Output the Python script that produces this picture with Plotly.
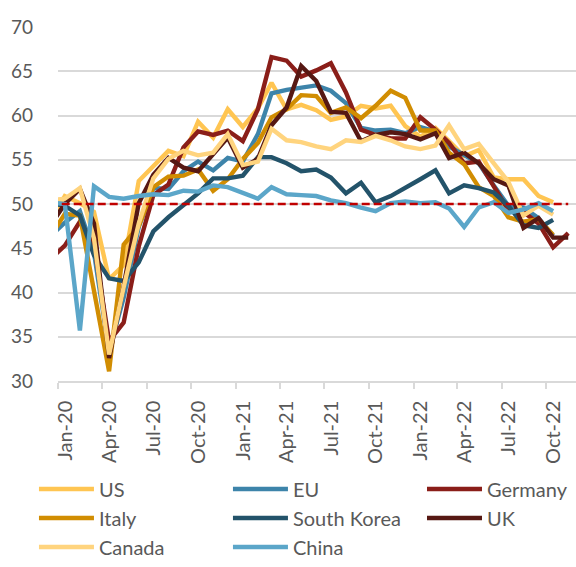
import plotly.graph_objects as go

# Monthly observations, Dec-2019 .. Nov-2022 (plotted mid-month)
months = ["2019-12"] + [f"{y}-{m:02d}" for y in (2020, 2021, 2022) for m in range(1, 13)][:35]
dates = [f"{m}-15" for m in months]

us = [47.8, 50.9, 50.1, 49.1, 41.5, 43.1, 52.6, 54.2, 56.0, 55.4, 59.3, 57.5, 60.7,
      58.7, 60.8, 63.7, 60.7, 61.2, 60.6, 59.5, 59.9, 61.1, 60.8, 61.1, 58.8,
      57.6, 58.6, 57.1, 55.4, 56.1, 53.0, 52.8, 52.8, 50.9, 50.2, None]
eu = [46.3, 47.9, 49.2, 44.5, 33.4, 39.4, 47.4, 51.8, 51.7, 53.7, 54.8, 53.8, 55.2,
      54.8, 57.9, 62.5, 62.9, 63.1, 63.4, 62.8, 61.4, 58.6, 58.3, 58.4, 58.0,
      58.7, 58.2, 56.5, 55.5, 54.6, 52.1, 49.8, 49.6, 48.4, 46.4, None]
germany = [43.7, 45.3, 48.0, 45.4, 34.5, 36.6, 45.2, 51.0, 52.2, 56.4, 58.2, 57.8, 58.3,
           57.1, 60.7, 66.6, 66.2, 64.4, 65.1, 65.9, 62.6, 58.4, 57.8, 57.4, 57.4,
           59.8, 58.4, 56.9, 54.6, 54.8, 52.0, 49.3, 49.1, 47.8, 45.1, 46.7]
italy = [46.2, 48.9, 48.7, 40.3, 31.1, 45.4, 47.5, 51.9, 53.1, 53.2, 53.9, 51.5, 52.8,
         55.1, 56.9, 59.8, 60.7, 62.3, 62.2, 60.3, 60.9, 59.7, 61.1, 62.8, 62.0,
         58.3, 58.3, 55.8, 54.5, 51.9, 50.9, 48.5, 48.0, 48.3, 46.5, None]
south_korea = [50.1, 49.8, 48.7, 44.2, 41.6, 41.3, 43.4, 46.9, 48.5, 49.8, 51.2, 52.9, 52.9,
               53.2, 55.3, 55.3, 54.6, 53.7, 53.9, 53.0, 51.2, 52.4, 50.2, 50.9, 51.9,
               52.8, 53.8, 51.2, 52.1, 51.8, 51.3, 49.8, 47.6, 47.3, 48.2, None]
uk = [47.5, 50.0, 51.7, 47.8, 32.6, 40.7, 50.1, 53.3, 55.2, 54.1, 53.7, 55.6, 57.5,
      54.1, 55.1, 58.9, 60.9, 65.6, 63.9, 60.4, 60.3, 57.1, 57.8, 58.1, 57.9,
      57.3, 58.0, 55.2, 55.8, 54.6, 52.8, 52.1, 47.3, 48.4, 46.2, 46.2]
canada = [50.4, 50.6, 51.8, 46.1, 33.0, 40.6, 47.8, 52.9, 55.1, 56.0, 55.5, 55.8, 57.9,
          54.4, 54.8, 58.5, 57.2, 57.0, 56.5, 56.2, 57.2, 57.0, 57.7, 57.2, 56.5,
          56.2, 56.6, 58.9, 56.2, 56.8, 54.6, 52.5, 48.7, 49.8, 48.8, None]
china = [50.2, 50.0, 35.7, 52.0, 50.8, 50.6, 50.9, 51.1, 51.0, 51.5, 51.4, 52.1, 51.9,
         51.3, 50.6, 51.9, 51.1, 51.0, 50.9, 50.4, 50.1, 49.6, 49.2, 50.1, 50.3,
         50.1, 50.2, 49.5, 47.4, 49.6, 50.2, 49.0, 49.4, 50.1, 49.2, None]

threshold = 50

# (name, values, colour, legend column)
series = [
    ("US", us, "#FFC552", "legend"),
    ("EU", eu, "#3D84AA", "legend2"),
    ("Germany", germany, "#8A1E19", "legend3"),
    ("Italy", italy, "#D18D02", "legend"),
    ("South Korea", south_korea, "#23536A", "legend2"),
    ("UK", uk, "#561813", "legend3"),
    ("Canada", canada, "#FFD47E", "legend"),
    ("China", china, "#5BA6C9", "legend2"),
]

FONT = "Lato, 'Open Sans', sans-serif"
GRAY = "#595959"

fig = go.Figure()
for name, vals, col, leg in series:
    fig.add_trace(go.Scatter(
        x=dates, y=vals, name=name, mode="lines",
        line=dict(color=col, width=4.4),
        connectgaps=False, legend=leg,
    ))

fig.add_shape(type="line", xref="x", yref="y",
              x0=dates[0], x1=dates[-1], y0=threshold, y1=threshold,
              line=dict(color="#C00000", width=2.5, dash="8px,4px"), layer="above")

leg_common = dict(
    orientation="v", xref="paper", yref="paper",
    xanchor="left", yanchor="top", y=-0.25,
    font=dict(family=FONT, size=20, color=GRAY),
    itemwidth=55, tracegroupgap=0, bgcolor="rgba(0,0,0,0)",
)

fig.update_layout(
    width=576, height=567,
    margin=dict(l=58, r=0, t=27, b=184),
    paper_bgcolor="white", plot_bgcolor="white",
    font=dict(family=FONT, size=19, color=GRAY),
    showlegend=True,
    legend=dict(x=-0.0464, **leg_common),
    legend2=dict(x=0.3281, **leg_common),
    legend3=dict(x=0.7027, **leg_common),
)
fig.update_xaxes(
    type="date", range=["2020-01-01", "2022-12-01"],
    tick0="2020-01-01", dtick="M3", tickformat="%b-%y", tickangle=-90,
    showgrid=False, showline=True, linecolor="#D9D9D9", linewidth=1.5,
    ticks="outside", ticklen=6, tickwidth=1.5, tickcolor="#D9D9D9",
    ticklabelshift=7, ticklabelstandoff=4,
    tickfont=dict(family=FONT, size=20, color=GRAY),
    zeroline=False, automargin=False,
)
fig.update_yaxes(
    range=[30, 70], dtick=5, tick0=30,
    showgrid=True, gridcolor="#D9D9D9", gridwidth=1.5,
    showline=False, zeroline=False, ticks="",
    ticklabelstandoff=24, automargin=False,
    tickfont=dict(family=FONT, size=19, color=GRAY),
)

fig.write_html(
    "out.html",
    config={"displayModeBar": False},
    post_script="document.body.style.margin='0';document.body.style.overflow='hidden';",
)
